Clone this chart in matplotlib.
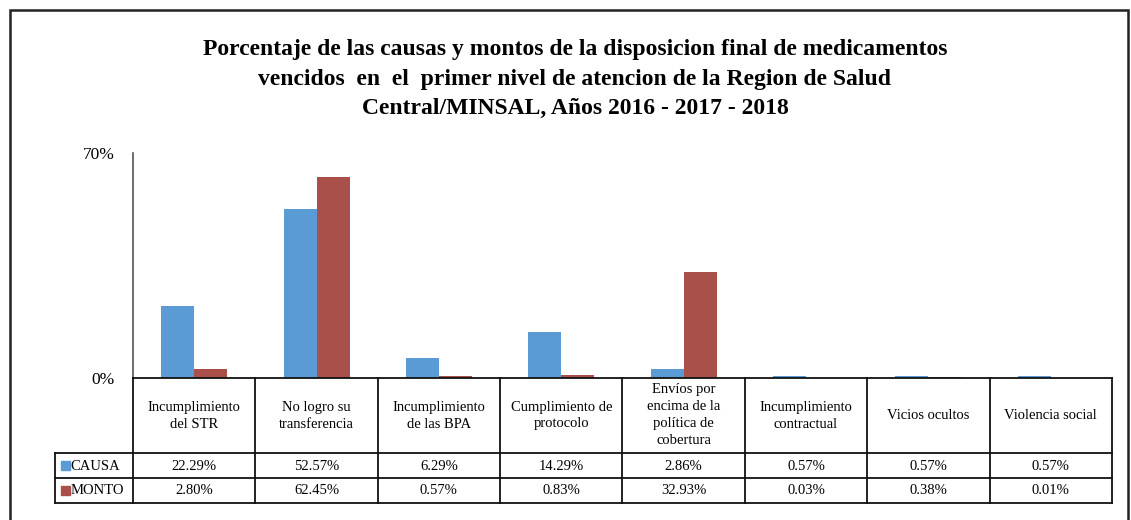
import matplotlib
matplotlib.use("Agg")
import matplotlib.pyplot as plt
from matplotlib.patches import Rectangle
import numpy as np

categories = ["Incumplimiento\ndel STR", "No logro su\ntransferencia", "Incumplimiento\nde las BPA",
              "Cumplimiento de\nprotocolo", "Envíos por\nencima de la\npolítica de\ncobertura",
              "Incumplimiento\ncontractual", "Vicios ocultos", "Violencia social"]
causa = [22.29, 52.57, 6.29, 14.29, 2.86, 0.57, 0.57, 0.57]
monto = [2.80, 62.45, 0.57, 0.83, 32.93, 0.03, 0.38, 0.01]
series_names = ["CAUSA", "MONTO"]
colors = ["#5B9BD5", "#A9504A"]
title = ("Porcentaje de las causas y montos de la disposicion final de medicamentos\n"
         "vencidos  en  el  primer nivel de atencion de la Region de Salud\n"
         "Central/MINSAL, Años 2016 - 2017 - 2018")

plt.rcParams['font.family'] = ['Liberation Serif', 'DejaVu Serif']

W, H = 1131, 520
fig = plt.figure(figsize=(W / 100, H / 100), dpi=100)

def fx(px): return px / W
def fy(py): return 1 - py / H

# outer border
fig.patches.append(Rectangle((fx(10), fy(530)), fx(1128) - fx(10), fy(10) - fy(530),
                             transform=fig.transFigure, fill=False, edgecolor="#222222", lw=1.8))

fig.text(fx(575), fy(79), title, ha="center", va="center", fontsize=17, fontweight="bold",
         linespacing=1.5)

x0, x1 = 133, 1112
y_top, y_zero = 153, 378
ax = fig.add_axes([fx(x0), fy(y_zero), fx(x1) - fx(x0), fy(y_top) - fy(y_zero)])
n = len(categories)
x = np.arange(n)
bw = 0.27
ax.bar(x - bw / 2, causa, bw, color=colors[0])
ax.bar(x + bw / 2, monto, bw, color=colors[1])
ax.set_xlim(-0.5, n - 0.5)
ax.set_ylim(0, 70)
ax.set_yticks([0, 70])
ax.set_yticklabels(["0%", "70%"], fontsize=12.5)
ax.tick_params(axis="y", length=0, pad=13)
ax.set_xticks([])
for s in ["top", "right", "bottom"]:
    ax.spines[s].set_visible(False)
ax.spines["left"].set_color("#555555")
ax.spines["left"].set_linewidth(1.2)

# data table
tx0 = 55
cw = (x1 - x0) / n
leg_w = (x0 - tx0) / cw
tab = fig.add_axes([fx(tx0), fy(503), fx(x1) - fx(tx0), fy(378) - fy(503)])
tab.set_xlim(-0.5 - leg_w, n - 0.5)
tab.set_ylim(125, 0)
tab.axis("off")
lc = "#111111"
lw = 1.3
tab.plot([-0.5, n - 0.5], [0, 0], color=lc, lw=lw, clip_on=False)
for yy in [75, 100, 125]:
    tab.plot([-0.5 - leg_w, n - 0.5], [yy, yy], color=lc, lw=lw, clip_on=False)
for i in range(n + 1):
    tab.plot([i - 0.5, i - 0.5], [0, 125], color=lc, lw=lw, clip_on=False)
tab.plot([-0.5 - leg_w, -0.5 - leg_w], [75, 125], color=lc, lw=lw, clip_on=False)

for i, c in enumerate(categories):
    tab.text(i, 37.5, c, ha="center", va="center", fontsize=10.5, linespacing=1.4)
    tab.text(i, 88, f"{causa[i]:.2f}%", ha="center", va="center", fontsize=10.5)
    tab.text(i, 113, f"{monto[i]:.2f}%", ha="center", va="center", fontsize=10.5)

for k, (name, col) in enumerate(zip(series_names, colors)):
    yc = 87.5 + 25 * k
    sq = 9 / cw
    tab.add_patch(Rectangle((-0.5 - leg_w + 6 / cw, yc - 4.5), sq, 9, color=col, clip_on=False))
    tab.text(-0.5 - leg_w + 15.5 / cw, yc + 0.5, name, ha="left", va="center", fontsize=10.5)

fig.savefig("out.png", dpi=100)
